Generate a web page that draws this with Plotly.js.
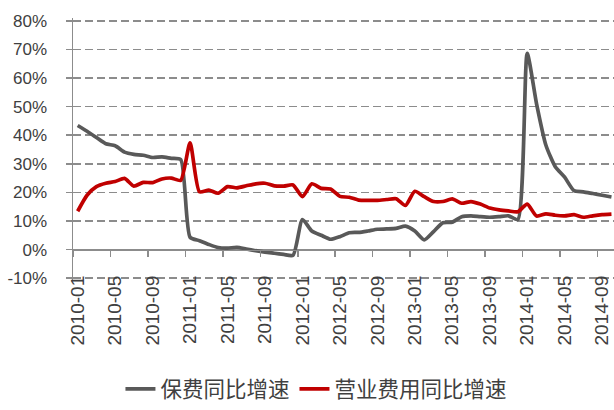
<!DOCTYPE html>
<html>
<head>
<meta charset="utf-8">
<script src="https://cdn.plot.ly/plotly-3.0.1.min.js"></script>
<style>html,body{margin:0;padding:0;background:#fff;}#chart{width:614px;height:410px;}</style>
</head>
<body>
<div id="chart"></div>
<script>
var categories = ["2010-01","2010-02","2010-03","2010-04","2010-05","2010-06","2010-07","2010-08","2010-09","2010-10","2010-11","2010-12",
"2011-01","2011-02","2011-03","2011-04","2011-05","2011-06","2011-07","2011-08","2011-09","2011-10","2011-11","2011-12",
"2012-01","2012-02","2012-03","2012-04","2012-05","2012-06","2012-07","2012-08","2012-09","2012-10","2012-11","2012-12",
"2013-01","2013-02","2013-03","2013-04","2013-05","2013-06","2013-07","2013-08","2013-09","2013-10","2013-11","2013-12",
"2014-01","2014-02","2014-03","2014-04","2014-05","2014-06","2014-07","2014-08","2014-09","2014-10"];

var premiumGrowth = [43.4,41.4,39.2,37.0,36.3,34.1,33.3,33.0,32.2,32.4,31.9,31.5,
4.3,3.1,1.8,0.7,0.5,0.8,0.2,-0.4,-0.9,-1.3,-1.7,-2.0,
10.5,6.5,5.0,3.6,4.5,5.9,6.0,6.5,7.1,7.2,7.4,8.2,
6.5,3.4,6.3,9.4,9.6,11.5,11.8,11.5,11.3,11.5,11.8,10.5,
68.6,51.0,36.5,29.0,25.3,20.6,20.2,19.6,19.0,18.4];

var opexGrowth = [13.4,19.0,22.0,23.2,23.8,24.9,22.2,23.5,23.4,24.7,25.0,24.2,
37.3,20.2,20.8,19.7,22.0,21.6,22.3,23.0,23.2,22.3,22.2,22.6,
18.5,23.0,21.4,21.2,18.6,18.3,17.3,17.2,17.2,17.5,17.8,15.4,
20.4,18.5,16.8,16.8,17.7,16.2,16.8,15.9,14.5,13.9,13.5,13.2,
15.9,11.7,12.5,12.0,11.8,12.2,11.3,11.8,12.2,12.4];

var yTickVals = [-10,0,10,20,30,40,50,60,70,80];
var yTickText = ["-10%","0%","10%","20%","30%","40%","50%","60%","70%","80%"];
var seriesNames = ["保费同比增速","营业费用同比增速"];

var xRange = [-0.5, 57.27];
var yRange = [-11, 81];
var axisGray = "#8c8c8c";
var yTickFont = {family: "Liberation Sans, Arial, sans-serif", size: 17, color: "#404040"};
var xTickFont = {family: "Liberation Sans, Arial, sans-serif", size: 19, color: "#404040"};

var traces = [
  {x: categories, y: premiumGrowth, name: seriesNames[0], type: "scatter", mode: "lines",
   line: {color: "#595959", width: 3.7, shape: "spline", smoothing: 0.6}, xaxis: "x", yaxis: "y"},
  {x: categories, y: opexGrowth, name: seriesNames[1], type: "scatter", mode: "lines",
   line: {color: "#C00000", width: 3.7, shape: "spline", smoothing: 0.6}, xaxis: "x2", yaxis: "y2"}
];

var zeroPos = (0 - yRange[0]) / (yRange[1] - yRange[0]);

var layout = {
  width: 614, height: 410,
  margin: {l: 73, r: 0, t: 18, b: 122},
  paper_bgcolor: "#ffffff", plot_bgcolor: "#ffffff",
  showlegend: true,
  legend: {orientation: "h", x: 0.45, xanchor: "center", y: -0.41, yanchor: "middle",
    font: {family: "Noto Sans CJK SC, sans-serif", size: 21.5, color: "#404040"},
    itemwidth: 30, tracegroupgap: 0},
  xaxis: {type: "category", categoryorder: "array", categoryarray: categories,
    range: xRange, showgrid: false, zeroline: false, showline: false,
    tickmode: "linear", tick0: 0, dtick: 4, ticks: "", tickangle: -90,
    ticklabelstandoff: -10, tickfont: xTickFont, fixedrange: true},
  xaxis2: {type: "category", categoryorder: "array", categoryarray: categories,
    range: xRange, overlaying: "x", anchor: "free", position: zeroPos,
    showgrid: false, zeroline: false, showline: true, linecolor: axisGray, linewidth: 1.5,
    tickmode: "linear", tick0: 0, dtick: 4, tickson: "boundaries",
    ticks: "outside", ticklen: 6, tickwidth: 1.5, tickcolor: axisGray, showticklabels: false},
  yaxis: {range: yRange, tickmode: "array", tickvals: yTickVals, ticktext: yTickText,
    showgrid: true, gridcolor: axisGray, gridwidth: 1.5, griddash: "8px,4px",
    zeroline: true, zerolinecolor: axisGray, zerolinewidth: 1.5,
    showline: true, linecolor: axisGray, linewidth: 1.5,
    ticks: "outside", ticklen: 6, tickwidth: 1.5, tickcolor: axisGray,
    ticklabelstandoff: 15, tickfont: yTickFont},
  yaxis2: {range: yRange, overlaying: "y", side: "left", anchor: "x2",
    tickmode: "array", tickvals: yTickVals, showgrid: false, zeroline: false, showline: false,
    ticks: "inside", ticklen: 5, tickwidth: 1.5, tickcolor: axisGray, showticklabels: false}
};

Plotly.newPlot("chart", traces, layout, {staticPlot: true, displayModeBar: false});
</script>
</body>
</html>
